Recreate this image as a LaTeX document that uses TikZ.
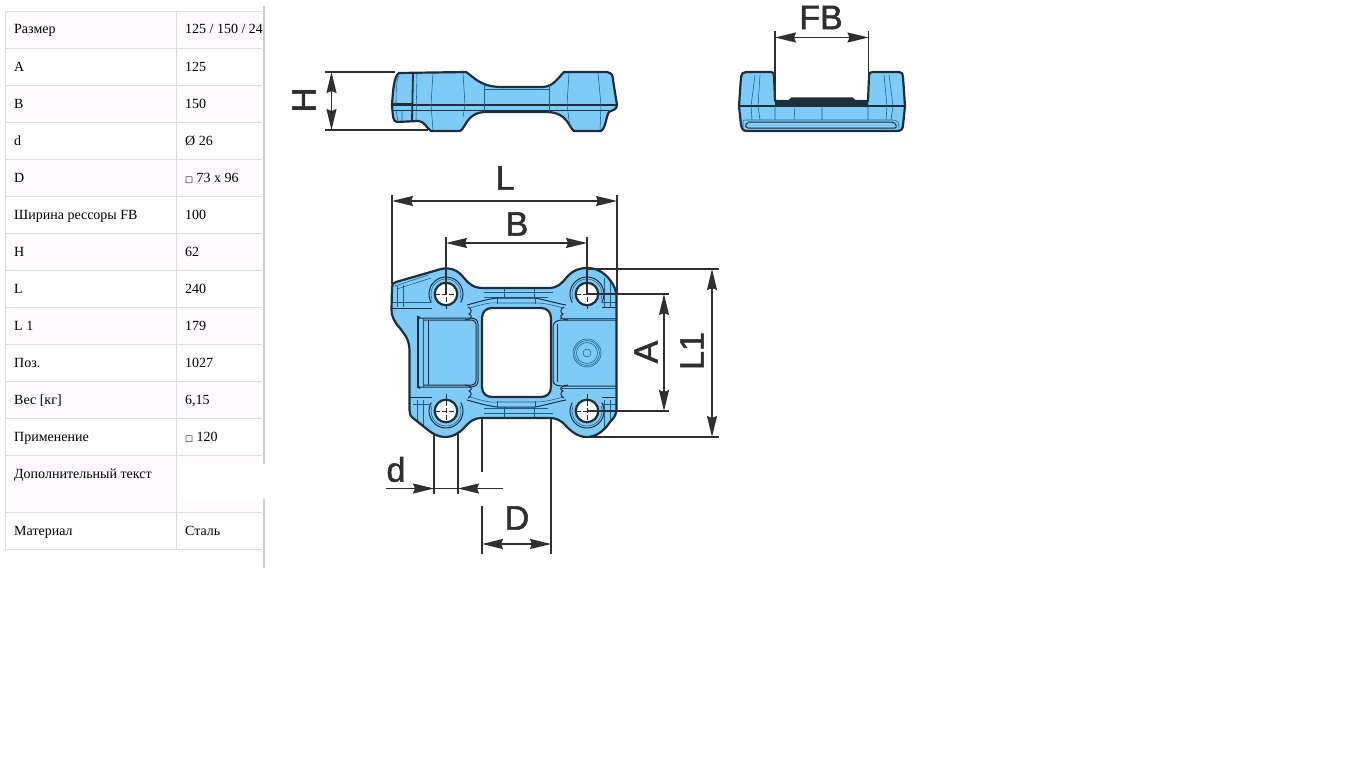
\documentclass[tikz,border=0pt]{standalone}
\usepackage{fontspec}
\setmainfont{Liberation Serif}
\newfontfamily\lblfont[FakeBold=1.6]{Liberation Sans}
\newfontfamily\symfont{DejaVu Sans}
\usetikzlibrary{arrows.meta}
\definecolor{grid}{HTML}{DDDDDD}
\definecolor{tint}{HTML}{FEFBFF}
\definecolor{bar}{HTML}{CCCCCC}
\definecolor{steel}{HTML}{7FCBF7}
\definecolor{edge}{HTML}{1E2E3A}
\definecolor{inner}{HTML}{1F5C84}
\definecolor{dimc}{HTML}{2F2F2F}
\newcommand{\sq}{{\symfont\fontsize{8.5}{10}\selectfont □}}
\def\planpath{(392,287) .. controls (392,284) and (393,283) .. (396,282) -- (441,269)
  .. controls (450,267) and (458,270) .. (464,278)
  .. controls (470,285) and (474,288) .. (484,288) -- (548,288)
  .. controls (558,288) and (561,284) .. (567,277)
  .. controls (573,270) and (580,268) .. (587,268)
  .. controls (596,268) and (604,272) .. (610,280)
  .. controls (614,285) and (616,290) .. (616.5,296) -- (616.5,410)
  .. controls (616,415) and (614,418) .. (610,422)
  .. controls (604,431) and (596,437) .. (587,437)
  .. controls (578,437) and (572,432) .. (566,426)
  .. controls (561,420) and (556,418) .. (549,418) -- (482,418)
  .. controls (474,418) and (470,421) .. (464,428)
  .. controls (458,434) and (452,437) .. (446,437)
  .. controls (438,437) and (433,434) .. (428,430) -- (413,418)
  .. controls (410,416) and (409.5,413) .. (409.5,410) -- (409.5,352)
  .. controls (409.5,340) and (406,336) .. (399,327)
  .. controls (394,321) and (391.5,316) .. (391.5,310) -- cycle}
\tikzset{
  x=1pt,y=-1pt,
  cell/.style={anchor=base west,inner sep=0pt,font=\fontsize{14}{16}\selectfont,text=black},
  gridline/.style={draw=grid,line width=1pt},
  body/.style={draw=edge,fill=steel,line width=2.2pt,line join=round},
  heavy/.style={draw=edge,line width=1.8pt},
  fine/.style={draw=inner,line width=0.55pt},
  mid/.style={draw=edge,line width=1pt},
  ext/.style={draw=dimc,line width=1.5pt},
  dimline/.style={draw=dimc,line width=1.5pt,{Stealth[length=21pt,width=10pt,inset=2pt]}-{Stealth[length=21pt,width=10pt,inset=2pt]}},
  lbl/.style={inner sep=0pt,text=dimc,font=\lblfont\fontsize{34}{34}\selectfont},
  center/.style={draw=dimc,line width=0.8pt,dash pattern=on 5pt off 2pt},
}
\begin{document}
\begin{tikzpicture}
\useasboundingbox (0,0) rectangle (1364,768);
\fill[white] (0,0) rectangle (1364,768);
% ---------- table
\foreach \t/\b in {11.5/48.5,85.5/122.5,159.5/196.5,233.5/270.5,307.5/344.5,381.5/418.5,455.5/512.5}
  \fill[tint] (5.5,\t) rectangle (262,\b);
\fill[white] (177,463.5) rectangle (265,499);
\foreach \y in {11.5,48.5,85.5,122.5,159.5,196.5,233.5,270.5,307.5,344.5,381.5,418.5,455.5,512.5,549.5}
  \draw[gridline] (5,\y) -- (262,\y);
\draw[gridline] (5.5,11) -- (5.5,550);
\draw[gridline] (176.5,11) -- (176.5,550);
\node[cell] (keya) at (14,34) {Размер};
\node[cell] (vala) at (185,34) {125 / 150 / 24};
\foreach \n/\y/\a/\v in {
  b/71/A/125,
  c/108/B/150,
  d/145/d/Ø 26,
  e/182/D/\sq{} 73 x 96,
  f/219/Ширина рессоры FB/100,
  g/256/H/62,
  h/293/L/240,
  i/330/L 1/179,
  j/367/Поз./1027,
  k/404/Вес [кг]/{6,15},
  l/441/Применение/\sq{} 120,
  m/535/Материал/Сталь}{
  \node[cell] (key\n) at (14,\y) {\a};
  \node[cell] (val\n) at (185,\y) {\v};
}
\node[cell] (keyn) at (14,478) {Дополнительный текст};
\fill[bar] (262.5,6) rectangle (264.8,463.5);
\fill[bar] (262.5,499) rectangle (264.8,568);

% ---------- side view (H)
\path[body] (392,105) .. controls (393,90) and (394,76) .. (399,73) -- (466,72)
  .. controls (474,77) and (480,87) .. (502,87) -- (542,87)
  .. controls (553,87) and (558,78) .. (564,72) -- (607,72)
  .. controls (612,73) and (613,76) .. (613,80) -- (617,105)
  .. controls (617,110) and (612,110) .. (609,112)
  .. controls (606,116) and (606,128) .. (601,131) -- (574,131)
  .. controls (569,128) and (568,113) .. (548,112) -- (485,112)
  .. controls (466,113) and (466,128) .. (460,131) -- (431,131)
  .. controls (426,128) and (426,122) .. (418,121) -- (397,122)
  .. controls (393,121) and (393,118) .. (392,105) -- cycle;
\draw[heavy] (392,105) -- (617,105);
\draw[mid] (392,110) -- (609,110);
\draw[heavy] (413,73) -- (412,121);
\draw[heavy] (392,104) -- (412,104);
\draw[fine] (399,76) .. controls (396,80) and (396,95) .. (396,105);
\draw[fine] (396,110) -- (398,121) (402,110) -- (402,121);
\draw[fine] (417,74) -- (416,120);
\draw[fine] (433,73) -- (431,105) -- (433,130);
\draw[fine] (463,73) -- (465,105) -- (463,117);
\draw[fine] (484,84) -- (484,112) (549,84) -- (549,112);
\draw[fine] (484,89) -- (549,89);
\draw[fine] (569,73) -- (567,105) -- (570,127);
\draw[fine] (598,73) -- (601,105) -- (600,130);
\coordinate (ht) at (395,72); \coordinate (hbot) at (428,130);
\draw[ext] (325,72) -- (ht);
\draw[ext] (325,130) -- (hbot);
\coordinate (hu) at (331.5,72); \coordinate (hv) at (331.5,130);
\draw[dimline] (hu) -- (hv);
\node[lbl,rotate=90] (lblH) at (304,100) {H};

% ---------- end view (FB)
\path[body] (739,106) -- (741,77) .. controls (741,74) and (743,72) .. (746,72) -- (771,72)
  .. controls (773,72) and (774,73) .. (774,76) -- (775,101) -- (789,101) -- (792,98.5) -- (852,98.5) -- (855,101)
  -- (868,101) -- (869,76) .. controls (869,73) and (870,72) .. (873,72) -- (899,72)
  .. controls (902,72) and (903,74) .. (903,77) -- (905,106) -- (903,125)
  .. controls (903,129) and (901,131) .. (897,131) -- (747,131)
  .. controls (743,131) and (742,129) .. (741,125) -- cycle;
\fill[edge] (775,100) -- (789,100) -- (792,98) -- (852,98) -- (855,100) -- (868,100) -- (868,105.5) -- (775,105.5) -- cycle;
\draw[heavy] (739,106) -- (905,106);
\draw[mid] (748,123) .. controls (745,123) and (745,128) .. (748,128) -- (895,128) .. controls (897,128) and (897,123) .. (892,122) -- (748,122);
\draw[fine] (743,128) -- (743,122) .. controls (743,120) and (744,120) .. (746,120) -- (893,120) .. controls (897,120) and (899,122) .. (899,128);
\draw[fine] (755,75) -- (751,106) -- (752,120);
\draw[fine] (760,75) -- (758,106) -- (760,120);
\draw[fine] (775,106) -- (775,120) (795,106) -- (794,120) (822,106) -- (822,120) (868,106) -- (868,120);
\draw[fine] (884,75) -- (887,106) -- (886,120);
\draw[fine] (889,75) -- (893,106) -- (891,120);
\coordinate (fl) at (775,31); \coordinate (fr) at (868.5,31);
\coordinate (flb) at (775,100); \coordinate (frb) at (868.5,100);
\draw[ext] (fl) -- (flb);
\draw[ext] (fr) -- (frb);
\coordinate (fa) at (775,37.5); \coordinate (fz) at (868.5,37.5);
\draw[dimline] (fa) -- (fz);
\node[lbl] (lblFB) at (821,17.5) {FB};

% ---------- plan view
\path[fill=steel] \planpath;
\begin{scope}
\clip \planpath;
% upper and lower ribs
\foreach \m in {0,1}{
 \begin{scope}[shift={(0,705*\m)},yscale={1-2*\m}]
  \draw[fine] (484,292) -- (553,292) (484,297) -- (548,297);
  \draw[fine] (504,288) -- (504,298) (534,288) -- (534,298);
  \draw[fine] (497,298) -- (497,304) (535,298) -- (535,304);
  \draw[mid] (467,305) .. controls (478,302) and (488,299) .. (497,298) -- (535,298) .. controls (546,300) and (555,303) .. (566,305);
  \draw[fine] (470,308) .. controls (480,305) and (490,302) .. (497,303) -- (535,303) .. controls (545,303) and (552,305) .. (563,308);
  \draw[mid] (468,307) .. controls (472,309) and (472,313) .. (469,314) .. controls (473,316) and (472,319) .. (465,320);
  \draw[mid] (564,307) .. controls (560,309) and (560,313) .. (563,314) .. controls (559,316) and (560,319) .. (568,320);
 \end{scope}}
% corner detail
\draw[fine] (397,289) -- (431,278) (395,286) -- (428,275);
\draw[fine] (397,286) -- (397,307) (403,285) -- (403,307);
\draw[fine] (392,302) -- (431,302);
\draw[mid] (392,308) -- (432,308);
\draw[fine] (604,278) -- (604,307) (610,282) -- (610,307);
\draw[mid] (602,307) -- (616,307);
\draw[fine] (602,302) -- (616,302);
\draw[fine] (413,404) -- (431,404);
\draw[fine] (417,400) -- (417,424) (423,400) -- (423,428);
\draw[fine] (602,404) -- (616,404);
\draw[fine] (604,400) -- (604,428) (610,400) -- (610,422);
\draw[mid] (410,397.5) -- (432,397.5);
\draw[mid] (602,397.5) -- (616,397.5);
% bosses around holes: open arcs
\foreach \cx/\cy in {446/294,587/294}{
  \draw[fine] (\cx,\cy) ++(160:15) arc[start angle=160,end angle=380,radius=15];
  \draw[mid] (\cx,\cy) ++(150:17) arc[start angle=150,end angle=390,radius=17];
}
\foreach \cx/\cy in {446/411,587/411}{
  \draw[fine] (\cx,\cy) ++(-20:15) arc[start angle=-20,end angle=200,radius=15];
  \draw[mid] (\cx,\cy) ++(-30:17) arc[start angle=-30,end angle=210,radius=17];
}
% left recess
\draw[heavy] (420,318) -- (418,317) -- (418,387) -- (420,388);
\draw[mid] (418,318) -- (470,318) .. controls (475,318) and (478,320) .. (478,324) -- (478,381) .. controls (478,385) and (475,387) .. (470,387) -- (418,387);
\draw[mid] (424,320) -- (472,320) .. controls (474,320) and (476,322) .. (476,324) -- (476,381) .. controls (476,383) and (474,385) .. (472,385) -- (424,385);
\draw[fine] (423,318) -- (423,387);
\draw[mid] (428,320) -- (428,385);
% right recess
\draw[mid] (616,320) -- (562,320) .. controls (556,320) and (553,323) .. (553,327) -- (553,380) .. controls (553,384) and (556,386) .. (562,386) -- (616,386);
\draw[fine] (616,318) -- (560,318) (616,388) -- (560,388);
\draw[mid] (557,324) -- (557,382);
\end{scope}
% boss
\draw[fine] (587,353) circle (14);
\draw[fine] (587,353) circle (12.5);
\draw[fine] (587,353) circle (10.5);
\draw[fine] (587,353) circle (4);
% window
\draw[draw=edge,fill=white,line width=2.2pt] (492,308) -- (541,308)
  .. controls (547,308) and (551,312) .. (551,318) -- (551,387)
  .. controls (551,393) and (547,397) .. (541,397) -- (492,397)
  .. controls (486,397) and (482,393) .. (482,387) -- (482,318)
  .. controls (482,312) and (486,308) .. (492,308) -- cycle;
\path[draw=edge,line width=2.2pt,line join=round] \planpath;
% holes
\foreach \nm/\cx/\cy/\ut/\ub in {ha/446/294/11/17,hb/587/294/11/17,hc/446/411/17/11,hd/587/411/17/11}{
  \node[circle,draw=edge,fill=white,line width=2.2pt,minimum size=22.5pt,inner sep=0pt] (\nm) at (\cx,\cy) {};
  \draw[center] (\cx-11,\cy) -- (\cx+11,\cy);
  \draw[center] (\cx,\cy-\ut) -- (\cx,\cy+\ub);
}
% dimensions: L
\coordinate (la) at (392,195); \coordinate (lb) at (392,284);
\coordinate (lc) at (617,195); \coordinate (ld) at (617,294);
\draw[ext] (la) -- (lb);
\draw[ext] (lc) -- (ld);
\coordinate (l1) at (392,201); \coordinate (l2) at (617,201);
\draw[dimline] (l1) -- (l2);
\node[lbl] (lblL) at (505,178) {L};
% B
\coordinate (ba) at (446,237); \coordinate (bb) at (587,237);
\draw[ext] (ba) -- (ha.center);
\draw[ext] (bb) -- (hb.center);
\coordinate (b1) at (446,243); \coordinate (b2) at (587,243);
\draw[dimline] (b1) -- (b2);
\node[lbl] (lblB) at (517,224) {B};
% A
\coordinate (ar1) at (669,294); \coordinate (ar2) at (669,411);
\draw[ext] (hb.center) -- (ar1);
\draw[ext] (hd.center) -- (ar2);
\coordinate (a1) at (664,294); \coordinate (a2) at (664,411);
\draw[dimline] (a1) -- (a2);
\node[lbl,rotate=90] (lblA) at (646,352) {A};
% L1
\coordinate (e1) at (587,269); \coordinate (e2) at (719,269);
\coordinate (e3) at (590,437); \coordinate (e4) at (719,437);
\draw[ext] (e1) -- (e2);
\draw[ext] (e3) -- (e4);
\coordinate (m1) at (712,269); \coordinate (m2) at (712,437);
\draw[dimline] (m1) -- (m2);
\node[lbl,rotate=90] (lblLone) at (692,351) {L1};
% d
\coordinate (d1) at (434,433); \coordinate (d2) at (434,494);
\coordinate (d3) at (458,433); \coordinate (d4) at (458,494);
\draw[ext] (d1) -- (d2);
\draw[ext] (d3) -- (d4);
\coordinate (d5) at (386,488.5); \coordinate (d6) at (434,488.5);
\coordinate (d7) at (503,488.5); \coordinate (d8) at (458,488.5);
\draw[ext,-{Stealth[length=21pt,width=10pt,inset=2pt]}] (d5) -- (d6);
\draw[ext] (d6) -- (d8);
\draw[ext,-{Stealth[length=21pt,width=10pt,inset=2pt]}] (d7) -- (d8);
\node[lbl] (lbld) at (396,469.5) {d};
% D
\coordinate (p1) at (482,418); \coordinate (p2) at (482,472);
\coordinate (p3) at (482,506); \coordinate (p4) at (482,554);
\coordinate (p5) at (551,418); \coordinate (p6) at (551,554);
\draw[ext] (p1) -- (p2);
\draw[ext] (p3) -- (p4);
\draw[ext] (p5) -- (p6);
\coordinate (q1) at (482,544); \coordinate (q2) at (551,544);
\draw[dimline] (q1) -- (q2);
\node[lbl] (lblD) at (517,518) {D};
\end{tikzpicture}
\end{document}
